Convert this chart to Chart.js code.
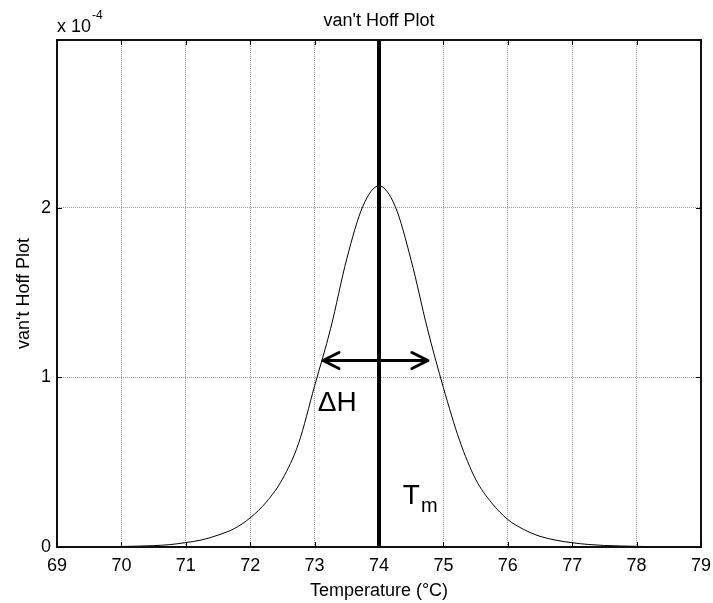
<!DOCTYPE html>
<html><head><meta charset="utf-8">
<script src="https://cdn.jsdelivr.net/npm/chart.js@4"></script>
<style>html,body{margin:0;padding:0;background:#fff;}</style>
</head><body>
<canvas id="c" width="713" height="603" style="width:713px;height:603px;display:block"></canvas>
<script>
// ---- data (y values in units of 1e-4) ----
const temperatures = [69,69.25,69.5,69.75,70,70.25,70.5,70.75,71,71.25,71.5,71.75,72,72.25,72.5,72.75,73,73.25,73.5,73.75,74,74.25,74.5,74.75,75,75.25,75.5,75.75,76,76.25,76.5,76.75,77,77.25,77.5,77.75,78,78.25,78.5,78.75,79];
const vantHoffE4 = [0.000,0.001,0.001,0.002,0.003,0.005,0.008,0.014,0.026,0.042,0.070,0.108,0.172,0.265,0.400,0.610,0.950,1.290,1.700,2.010,2.130,2.010,1.690,1.290,0.940,0.630,0.400,0.260,0.162,0.103,0.063,0.040,0.025,0.015,0.009,0.006,0.004,0.002,0.001,0.001,0.000];
const xTickValues = [69,70,71,72,73,74,75,76,77,78,79];
const yTickValues = [0,1,2];
const tmValue = 74;              // melting temperature marker
const deltaHArrowX = [73.13, 74.76];
const deltaHArrowY = 1.10;
const yAxisMax = 2.99;
const titleText = "van't Hoff Plot";
const xTitleText = "Temperature (°C)";
const yTitleText = "van't Hoff Plot";

const FONT = "'Liberation Sans', Arial, Helvetica, sans-serif";
const tickFont = {family: FONT, size: 18};

const decorPlugin = {
  id: 'decor',
  afterDatasetsDraw(chart) {
    const {ctx, chartArea: a, scales: {x, y}} = chart;
    ctx.save();
    // frame (box on)
    ctx.strokeStyle = '#111';
    ctx.lineWidth = 2;
    ctx.strokeRect(a.left, a.top, a.right - a.left, a.bottom - a.top);
    // inward tick marks
    ctx.lineWidth = 1;
    ctx.strokeStyle = '#000';
    const tl = 5;
    xTickValues.forEach(v => {
      const px = Math.round(x.getPixelForValue(v)) + 0.5;
      ctx.beginPath();
      ctx.moveTo(px, a.bottom); ctx.lineTo(px, a.bottom - tl);
      ctx.moveTo(px, a.top); ctx.lineTo(px, a.top + tl);
      ctx.stroke();
    });
    yTickValues.forEach(v => {
      const py = Math.round(y.getPixelForValue(v)) + 0.5;
      ctx.beginPath();
      ctx.moveTo(a.left, py); ctx.lineTo(a.left + tl, py);
      ctx.moveTo(a.right, py); ctx.lineTo(a.right - tl, py);
      ctx.stroke();
    });
    // double-headed ΔH arrow
    const x1 = x.getPixelForValue(deltaHArrowX[0]);
    const x2 = x.getPixelForValue(deltaHArrowX[1]);
    const ay = y.getPixelForValue(deltaHArrowY);
    ctx.strokeStyle = '#000';
    ctx.lineWidth = 3;
    ctx.lineCap = 'round';
    ctx.lineJoin = 'round';
    ctx.beginPath();
    ctx.moveTo(x1, ay); ctx.lineTo(x2, ay);
    ctx.moveTo(x1 + 16, ay - 8); ctx.lineTo(x1, ay); ctx.lineTo(x1 + 16, ay + 8);
    ctx.moveTo(x2 - 16, ay - 8); ctx.lineTo(x2, ay); ctx.lineTo(x2 - 16, ay + 8);
    ctx.stroke();
    // annotation texts
    ctx.fillStyle = '#000';
    ctx.textBaseline = 'alphabetic';
    ctx.textAlign = 'left';
    ctx.font = '28px ' + FONT;
    ctx.fillText('ΔH', x.getPixelForValue(73.05), y.getPixelForValue(0.80));
    const tx = x.getPixelForValue(74.37), ty = y.getPixelForValue(0.255);
    ctx.fillText('T', tx, ty);
    const tw = ctx.measureText('T').width;
    ctx.font = '20px ' + FONT;
    ctx.fillText('m', tx + tw + 1, ty + 8);
    ctx.restore();
  },
  afterDraw(chart) {
    const {ctx, chartArea: a} = chart;
    ctx.save();
    ctx.fillStyle = '#000';
    ctx.textBaseline = 'alphabetic';
    ctx.textAlign = 'center';
    ctx.font = '18px ' + FONT;
    ctx.fillText(titleText, (a.left + a.right) / 2, a.top - 14);
    ctx.textAlign = 'left';
    ctx.fillText('x 10', a.left, a.top - 8);
    const w = ctx.measureText('x 10').width;
    ctx.font = '12px ' + FONT;
    ctx.fillText('-4', a.left + w + 1, a.top - 21);
    ctx.restore();
  }
};

new Chart(document.getElementById('c'), {
  type: 'line',
  data: {
    datasets: [
      {
        data: temperatures.map((t, i) => ({x: t, y: vantHoffE4[i]})),
        borderColor: '#000',
        borderWidth: 1,
        pointRadius: 0,
        cubicInterpolationMode: 'monotone',
        fill: false
      },
      {
        data: [{x: tmValue, y: 0}, {x: tmValue, y: yAxisMax}],
        borderColor: '#000',
        borderWidth: 4,
        pointRadius: 0,
        fill: false
      }
    ]
  },
  options: {
    responsive: false,
    animation: false,
    devicePixelRatio: 1,
    layout: {padding: {top: 40, right: 12, left: 0, bottom: 0}},
    plugins: {legend: {display: false}, title: {display: false}, tooltip: {enabled: false}},
    scales: {
      x: {
        type: 'linear', min: 69, max: 79,
        afterBuildTicks: s => { s.ticks = xTickValues.map(v => ({value: v})); },
        afterFit: s => { s.height = 56; s.paddingLeft = 0; s.paddingRight = 0; },
        ticks: {font: tickFont, color: '#000', padding: 8, maxRotation: 0, autoSkip: false},
        grid: {color: '#9a9a9a', lineWidth: 1, drawTicks: false},
        border: {display: false, dash: [1, 1]},
        title: {display: true, text: xTitleText, font: tickFont, color: '#000', padding: {top: 0, bottom: 1}}
      },
      y: {
        type: 'linear', min: 0, max: yAxisMax,
        afterBuildTicks: s => { s.ticks = yTickValues.map(v => ({value: v})); },
        afterFit: s => { s.width = 57; s.paddingTop = 0; s.paddingBottom = 0; },
        ticks: {font: tickFont, color: '#000', padding: 6},
        grid: {color: '#9a9a9a', lineWidth: 1, drawTicks: false},
        border: {display: false, dash: [1, 1]},
        title: {display: true, text: yTitleText, font: tickFont, color: '#000', padding: {top: 13, bottom: 0}}
      }
    }
  },
  plugins: [decorPlugin]
});
</script>
</body></html>
